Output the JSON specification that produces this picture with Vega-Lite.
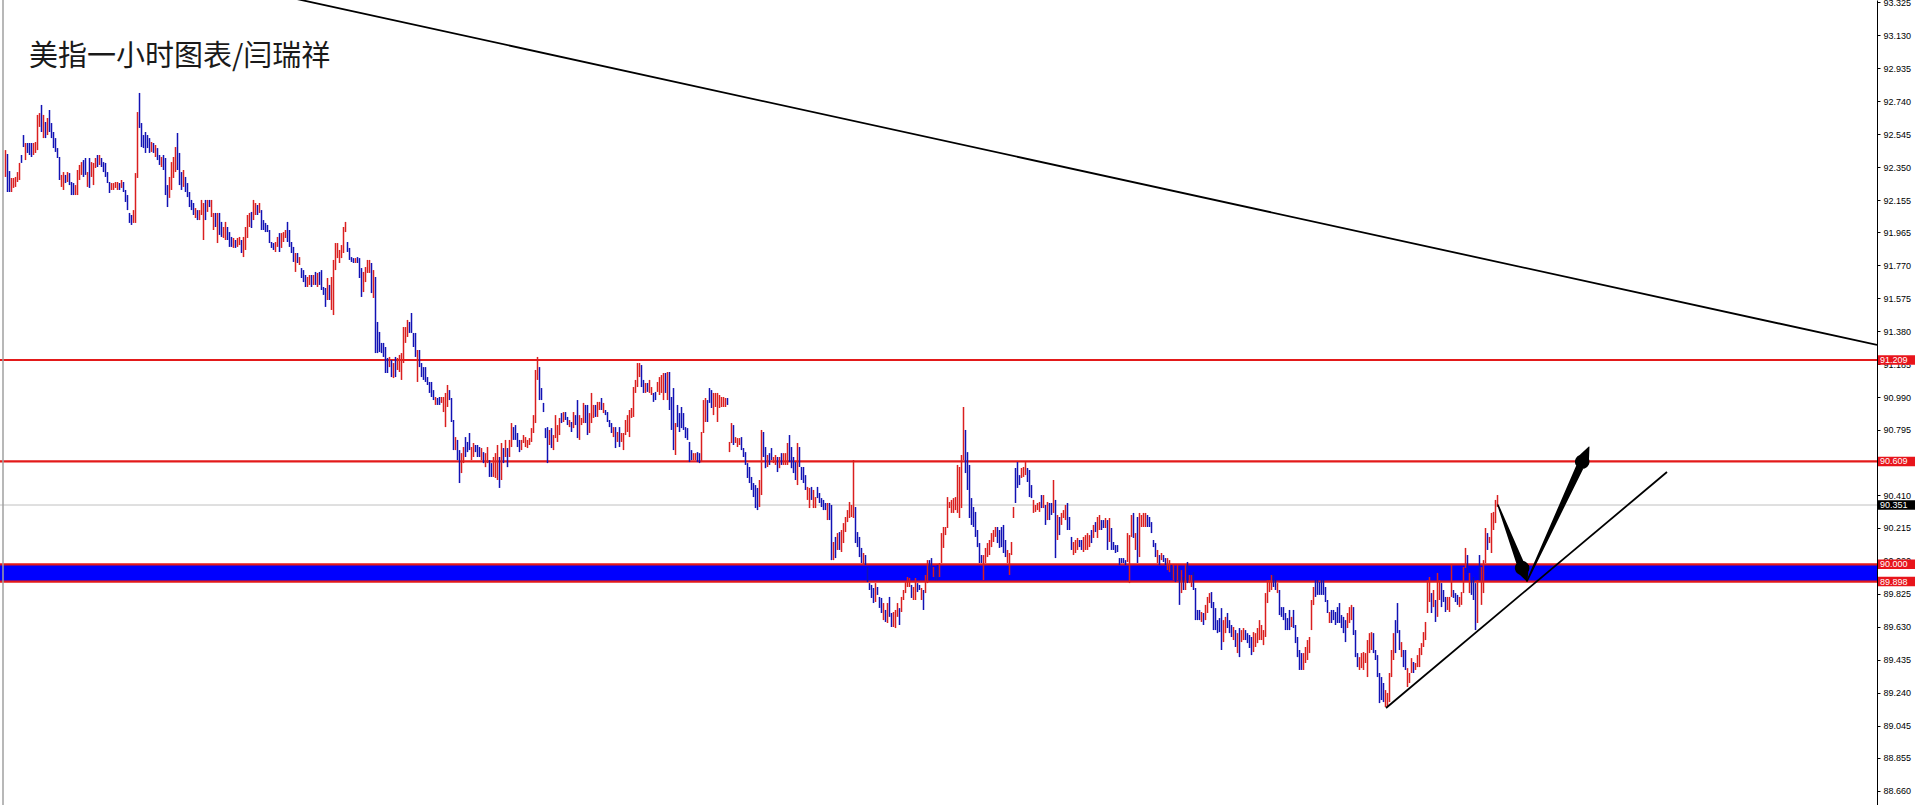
{
"$schema":"https://vega.github.io/schema/vega-lite/v6.json",
"width":1877,"height":805,
"autosize":{"type":"none"},
"padding":{"left":0,"top":0,"right":39,"bottom":0},
"background":"white",
"config":{"view":{"stroke":null},"axis":{"grid":false,"labelOverlap":false},
  "axisY":{"orient":"right","title":null,"format":".3f","grid":false,"labelFont":"Liberation Sans","labelFontSize":9,"labelColor":"#000000","tickColor":"#000000","tickSize":3,"domainColor":"#000000","domainWidth":1,"labelPadding":3,"labelOverlap":false,"labelFlush":false,"labelBound":false}},
"datasets":{
"bars":[
{"i":0,"h":92.451,"l":92.292,"d":"u"},{"i":1,"h":92.428,"l":92.203,"d":"d"},{"i":2,"h":92.327,"l":92.203,"d":"d"},{"i":3,"h":92.286,"l":92.203,"d":"u"},{"i":4,"h":92.286,"l":92.227,"d":"u"},{"i":5,"h":92.292,"l":92.233,"d":"u"},{"i":6,"h":92.321,"l":92.262,"d":"u"},{"i":7,"h":92.375,"l":92.274,"d":"u"},{"i":8,"h":92.422,"l":92.375,"d":"d"},{"i":9,"h":92.540,"l":92.469,"d":"d"},
{"i":10,"h":92.493,"l":92.392,"d":"u"},{"i":11,"h":92.493,"l":92.434,"d":"d"},{"i":12,"h":92.493,"l":92.422,"d":"d"},{"i":13,"h":92.493,"l":92.410,"d":"d"},{"i":14,"h":92.493,"l":92.422,"d":"u"},{"i":15,"h":92.499,"l":92.434,"d":"u"},{"i":16,"h":92.659,"l":92.451,"d":"u"},{"i":17,"h":92.670,"l":92.588,"d":"u"},{"i":18,"h":92.718,"l":92.558,"d":"d"},{"i":19,"h":92.659,"l":92.522,"d":"u"},
{"i":20,"h":92.617,"l":92.522,"d":"d"},{"i":21,"h":92.641,"l":92.540,"d":"u"},{"i":22,"h":92.688,"l":92.558,"d":"d"},{"i":23,"h":92.611,"l":92.522,"d":"d"},{"i":24,"h":92.558,"l":92.463,"d":"d"},{"i":25,"h":92.522,"l":92.440,"d":"d"},{"i":26,"h":92.463,"l":92.404,"d":"d"},{"i":27,"h":92.410,"l":92.274,"d":"d"},{"i":28,"h":92.304,"l":92.233,"d":"u"},{"i":29,"h":92.321,"l":92.215,"d":"u"},
{"i":30,"h":92.304,"l":92.256,"d":"d"},{"i":31,"h":92.321,"l":92.262,"d":"u"},{"i":32,"h":92.315,"l":92.244,"d":"d"},{"i":33,"h":92.262,"l":92.185,"d":"d"},{"i":34,"h":92.256,"l":92.185,"d":"d"},{"i":35,"h":92.244,"l":92.185,"d":"u"},{"i":36,"h":92.333,"l":92.185,"d":"u"},{"i":37,"h":92.363,"l":92.274,"d":"u"},{"i":38,"h":92.380,"l":92.304,"d":"u"},{"i":39,"h":92.392,"l":92.292,"d":"d"},
{"i":40,"h":92.404,"l":92.304,"d":"d"},{"i":41,"h":92.321,"l":92.233,"d":"u"},{"i":42,"h":92.404,"l":92.227,"d":"d"},{"i":43,"h":92.380,"l":92.292,"d":"u"},{"i":44,"h":92.375,"l":92.244,"d":"u"},{"i":45,"h":92.404,"l":92.345,"d":"u"},{"i":46,"h":92.422,"l":92.351,"d":"d"},{"i":47,"h":92.422,"l":92.363,"d":"u"},{"i":48,"h":92.404,"l":92.351,"d":"d"},{"i":49,"h":92.380,"l":92.321,"d":"d"},
{"i":50,"h":92.375,"l":92.292,"d":"d"},{"i":51,"h":92.321,"l":92.256,"d":"d"},{"i":52,"h":92.262,"l":92.197,"d":"d"},{"i":53,"h":92.256,"l":92.215,"d":"u"},{"i":54,"h":92.256,"l":92.215,"d":"u"},{"i":55,"h":92.262,"l":92.227,"d":"u"},{"i":56,"h":92.262,"l":92.215,"d":"u"},{"i":57,"h":92.256,"l":92.215,"d":"d"},{"i":58,"h":92.274,"l":92.227,"d":"u"},{"i":59,"h":92.262,"l":92.203,"d":"d"},
{"i":60,"h":92.215,"l":92.144,"d":"d"},{"i":61,"h":92.185,"l":92.096,"d":"d"},{"i":62,"h":92.079,"l":92.020,"d":"d"},{"i":63,"h":92.067,"l":92.008,"d":"d"},{"i":64,"h":92.096,"l":92.020,"d":"u"},{"i":65,"h":92.315,"l":92.020,"d":"u"},{"i":66,"h":92.676,"l":92.286,"d":"u"},{"i":67,"h":92.789,"l":92.582,"d":"d"},{"i":68,"h":92.611,"l":92.469,"d":"d"},{"i":69,"h":92.540,"l":92.463,"d":"d"},
{"i":70,"h":92.558,"l":92.434,"d":"d"},{"i":71,"h":92.540,"l":92.463,"d":"d"},{"i":72,"h":92.522,"l":92.434,"d":"d"},{"i":73,"h":92.499,"l":92.440,"d":"u"},{"i":74,"h":92.493,"l":92.434,"d":"d"},{"i":75,"h":92.481,"l":92.410,"d":"u"},{"i":76,"h":92.463,"l":92.392,"d":"d"},{"i":77,"h":92.422,"l":92.363,"d":"d"},{"i":78,"h":92.410,"l":92.351,"d":"u"},{"i":79,"h":92.422,"l":92.333,"d":"d"},
{"i":80,"h":92.404,"l":92.185,"d":"d"},{"i":81,"h":92.244,"l":92.114,"d":"d"},{"i":82,"h":92.292,"l":92.168,"d":"u"},{"i":83,"h":92.380,"l":92.215,"d":"u"},{"i":84,"h":92.410,"l":92.286,"d":"u"},{"i":85,"h":92.469,"l":92.321,"d":"u"},{"i":86,"h":92.552,"l":92.333,"d":"d"},{"i":87,"h":92.434,"l":92.244,"d":"d"},{"i":88,"h":92.321,"l":92.215,"d":"d"},{"i":89,"h":92.333,"l":92.233,"d":"u"},
{"i":90,"h":92.292,"l":92.203,"d":"d"},{"i":91,"h":92.256,"l":92.173,"d":"d"},{"i":92,"h":92.203,"l":92.114,"d":"d"},{"i":93,"h":92.156,"l":92.096,"d":"d"},{"i":94,"h":92.138,"l":92.067,"d":"d"},{"i":95,"h":92.108,"l":92.049,"d":"u"},{"i":96,"h":92.096,"l":92.037,"d":"d"},{"i":97,"h":92.096,"l":92.037,"d":"u"},{"i":98,"h":92.156,"l":92.067,"d":"u"},{"i":99,"h":92.138,"l":91.919,"d":"u"},
{"i":100,"h":92.156,"l":92.037,"d":"d"},{"i":101,"h":92.156,"l":92.085,"d":"u"},{"i":102,"h":92.156,"l":92.114,"d":"d"},{"i":103,"h":92.156,"l":92.055,"d":"u"},{"i":104,"h":92.079,"l":91.978,"d":"u"},{"i":105,"h":92.079,"l":91.996,"d":"d"},{"i":106,"h":92.079,"l":91.901,"d":"u"},{"i":107,"h":92.079,"l":91.949,"d":"d"},{"i":108,"h":92.026,"l":91.937,"d":"d"},{"i":109,"h":91.996,"l":91.931,"d":"u"},
{"i":110,"h":92.026,"l":91.919,"d":"u"},{"i":111,"h":91.996,"l":91.919,"d":"d"},{"i":112,"h":91.966,"l":91.878,"d":"d"},{"i":113,"h":91.937,"l":91.878,"d":"d"},{"i":114,"h":91.931,"l":91.872,"d":"u"},{"i":115,"h":91.919,"l":91.872,"d":"d"},{"i":116,"h":91.931,"l":91.878,"d":"u"},{"i":117,"h":91.937,"l":91.889,"d":"u"},{"i":118,"h":91.919,"l":91.842,"d":"d"},{"i":119,"h":91.937,"l":91.818,"d":"u"},
{"i":120,"h":91.996,"l":91.860,"d":"u"},{"i":121,"h":92.067,"l":91.931,"d":"u"},{"i":122,"h":92.079,"l":91.996,"d":"u"},{"i":123,"h":92.085,"l":91.990,"d":"d"},{"i":124,"h":92.156,"l":92.037,"d":"u"},{"i":125,"h":92.138,"l":92.067,"d":"u"},{"i":126,"h":92.126,"l":92.067,"d":"d"},{"i":127,"h":92.138,"l":92.079,"d":"u"},{"i":128,"h":92.096,"l":91.978,"d":"d"},{"i":129,"h":92.037,"l":91.978,"d":"d"},
{"i":130,"h":92.020,"l":91.966,"d":"d"},{"i":131,"h":92.008,"l":91.966,"d":"d"},{"i":132,"h":91.978,"l":91.901,"d":"d"},{"i":133,"h":91.907,"l":91.872,"d":"d"},{"i":134,"h":91.901,"l":91.860,"d":"d"},{"i":135,"h":91.907,"l":91.848,"d":"u"},{"i":136,"h":91.937,"l":91.878,"d":"u"},{"i":137,"h":91.960,"l":91.848,"d":"d"},{"i":138,"h":91.960,"l":91.872,"d":"u"},{"i":139,"h":91.966,"l":91.907,"d":"u"},
{"i":140,"h":91.978,"l":91.931,"d":"u"},{"i":141,"h":92.026,"l":91.907,"d":"d"},{"i":142,"h":91.978,"l":91.878,"d":"d"},{"i":143,"h":91.907,"l":91.842,"d":"d"},{"i":144,"h":91.878,"l":91.789,"d":"d"},{"i":145,"h":91.842,"l":91.730,"d":"u"},{"i":146,"h":91.842,"l":91.783,"d":"d"},{"i":147,"h":91.818,"l":91.771,"d":"u"},{"i":148,"h":91.753,"l":91.694,"d":"d"},{"i":149,"h":91.741,"l":91.670,"d":"d"},
{"i":150,"h":91.712,"l":91.641,"d":"d"},{"i":151,"h":91.700,"l":91.641,"d":"u"},{"i":152,"h":91.712,"l":91.653,"d":"u"},{"i":153,"h":91.712,"l":91.641,"d":"d"},{"i":154,"h":91.712,"l":91.653,"d":"u"},{"i":155,"h":91.730,"l":91.653,"d":"d"},{"i":156,"h":91.724,"l":91.641,"d":"u"},{"i":157,"h":91.730,"l":91.653,"d":"d"},{"i":158,"h":91.741,"l":91.623,"d":"d"},{"i":159,"h":91.641,"l":91.594,"d":"d"},
{"i":160,"h":91.635,"l":91.523,"d":"d"},{"i":161,"h":91.694,"l":91.564,"d":"u"},{"i":162,"h":91.653,"l":91.564,"d":"d"},{"i":163,"h":91.700,"l":91.505,"d":"u"},{"i":164,"h":91.801,"l":91.475,"d":"u"},{"i":165,"h":91.901,"l":91.741,"d":"u"},{"i":166,"h":91.901,"l":91.812,"d":"u"},{"i":167,"h":91.860,"l":91.783,"d":"u"},{"i":168,"h":91.889,"l":91.812,"d":"u"},{"i":169,"h":91.996,"l":91.842,"d":"u"},
{"i":170,"h":92.026,"l":91.966,"d":"u"},{"i":171,"h":91.907,"l":91.848,"d":"d"},{"i":172,"h":91.872,"l":91.801,"d":"d"},{"i":173,"h":91.818,"l":91.789,"d":"d"},{"i":174,"h":91.812,"l":91.783,"d":"d"},{"i":175,"h":91.812,"l":91.783,"d":"u"},{"i":176,"h":91.818,"l":91.783,"d":"d"},{"i":177,"h":91.812,"l":91.694,"d":"d"},{"i":178,"h":91.753,"l":91.582,"d":"d"},{"i":179,"h":91.730,"l":91.611,"d":"u"},
{"i":180,"h":91.759,"l":91.670,"d":"u"},{"i":181,"h":91.801,"l":91.724,"d":"u"},{"i":182,"h":91.801,"l":91.724,"d":"u"},{"i":183,"h":91.783,"l":91.605,"d":"d"},{"i":184,"h":91.741,"l":91.576,"d":"u"},{"i":185,"h":91.700,"l":91.250,"d":"d"},{"i":186,"h":91.434,"l":91.250,"d":"d"},{"i":187,"h":91.375,"l":91.256,"d":"d"},{"i":188,"h":91.310,"l":91.250,"d":"d"},{"i":189,"h":91.310,"l":91.227,"d":"d"},
{"i":190,"h":91.286,"l":91.132,"d":"d"},{"i":191,"h":91.221,"l":91.132,"d":"d"},{"i":192,"h":91.227,"l":91.167,"d":"u"},{"i":193,"h":91.209,"l":91.108,"d":"d"},{"i":194,"h":91.191,"l":91.102,"d":"u"},{"i":195,"h":91.227,"l":91.108,"d":"d"},{"i":196,"h":91.221,"l":91.150,"d":"u"},{"i":197,"h":91.239,"l":91.138,"d":"u"},{"i":198,"h":91.250,"l":91.091,"d":"u"},{"i":199,"h":91.404,"l":91.191,"d":"u"},
{"i":200,"h":91.404,"l":91.310,"d":"u"},{"i":201,"h":91.446,"l":91.345,"d":"u"},{"i":202,"h":91.434,"l":91.369,"d":"d"},{"i":203,"h":91.487,"l":91.369,"d":"d"},{"i":204,"h":91.369,"l":91.286,"d":"d"},{"i":205,"h":91.369,"l":91.227,"d":"d"},{"i":206,"h":91.268,"l":91.079,"d":"u"},{"i":207,"h":91.268,"l":91.167,"d":"d"},{"i":208,"h":91.191,"l":91.108,"d":"d"},{"i":209,"h":91.167,"l":91.091,"d":"d"},
{"i":210,"h":91.167,"l":91.079,"d":"d"},{"i":211,"h":91.108,"l":91.061,"d":"d"},{"i":212,"h":91.079,"l":91.014,"d":"d"},{"i":213,"h":91.079,"l":90.990,"d":"d"},{"i":214,"h":91.031,"l":90.972,"d":"d"},{"i":215,"h":90.990,"l":90.943,"d":"u"},{"i":216,"h":90.984,"l":90.943,"d":"d"},{"i":217,"h":90.990,"l":90.943,"d":"d"},{"i":218,"h":90.990,"l":90.955,"d":"u"},{"i":219,"h":90.990,"l":90.901,"d":"u"},
{"i":220,"h":91.014,"l":90.812,"d":"u"},{"i":221,"h":91.061,"l":90.931,"d":"u"},{"i":222,"h":91.031,"l":90.972,"d":"d"},{"i":223,"h":90.984,"l":90.842,"d":"d"},{"i":224,"h":90.854,"l":90.676,"d":"d"},{"i":225,"h":90.753,"l":90.676,"d":"u"},{"i":226,"h":90.736,"l":90.617,"d":"d"},{"i":227,"h":90.676,"l":90.481,"d":"d"},{"i":228,"h":90.658,"l":90.540,"d":"u"},{"i":229,"h":90.694,"l":90.599,"d":"u"},
{"i":230,"h":90.753,"l":90.635,"d":"d"},{"i":231,"h":90.724,"l":90.664,"d":"d"},{"i":232,"h":90.777,"l":90.676,"d":"d"},{"i":233,"h":90.694,"l":90.617,"d":"u"},{"i":234,"h":90.718,"l":90.635,"d":"u"},{"i":235,"h":90.706,"l":90.664,"d":"d"},{"i":236,"h":90.706,"l":90.635,"d":"d"},{"i":237,"h":90.694,"l":90.635,"d":"d"},{"i":238,"h":90.688,"l":90.617,"d":"u"},{"i":239,"h":90.664,"l":90.599,"d":"d"},
{"i":240,"h":90.658,"l":90.575,"d":"u"},{"i":241,"h":90.694,"l":90.599,"d":"u"},{"i":242,"h":90.617,"l":90.517,"d":"d"},{"i":243,"h":90.599,"l":90.517,"d":"d"},{"i":244,"h":90.635,"l":90.517,"d":"u"},{"i":245,"h":90.658,"l":90.511,"d":"u"},{"i":246,"h":90.706,"l":90.499,"d":"u"},{"i":247,"h":90.635,"l":90.452,"d":"d"},{"i":248,"h":90.718,"l":90.499,"d":"u"},{"i":249,"h":90.688,"l":90.599,"d":"d"},
{"i":250,"h":90.736,"l":90.635,"d":"u"},{"i":251,"h":90.688,"l":90.575,"d":"d"},{"i":252,"h":90.736,"l":90.635,"d":"u"},{"i":253,"h":90.836,"l":90.694,"d":"u"},{"i":254,"h":90.812,"l":90.736,"d":"d"},{"i":255,"h":90.824,"l":90.736,"d":"d"},{"i":256,"h":90.777,"l":90.694,"d":"d"},{"i":257,"h":90.736,"l":90.664,"d":"d"},{"i":258,"h":90.736,"l":90.676,"d":"u"},{"i":259,"h":90.765,"l":90.718,"d":"u"},
{"i":260,"h":90.753,"l":90.694,"d":"u"},{"i":261,"h":90.736,"l":90.688,"d":"u"},{"i":262,"h":90.747,"l":90.706,"d":"u"},{"i":263,"h":90.806,"l":90.724,"d":"u"},{"i":264,"h":90.883,"l":90.777,"d":"u"},{"i":265,"h":91.150,"l":90.836,"d":"u"},{"i":266,"h":91.227,"l":91.091,"d":"u"},{"i":267,"h":91.167,"l":90.972,"d":"d"},{"i":268,"h":91.043,"l":90.972,"d":"d"},{"i":269,"h":90.955,"l":90.901,"d":"d"},
{"i":270,"h":90.806,"l":90.747,"d":"d"},{"i":271,"h":90.812,"l":90.599,"d":"d"},{"i":272,"h":90.795,"l":90.706,"d":"u"},{"i":273,"h":90.806,"l":90.688,"d":"d"},{"i":274,"h":90.765,"l":90.676,"d":"u"},{"i":275,"h":90.883,"l":90.747,"d":"u"},{"i":276,"h":90.824,"l":90.724,"d":"u"},{"i":277,"h":90.866,"l":90.765,"d":"u"},{"i":278,"h":90.895,"l":90.836,"d":"d"},{"i":279,"h":90.901,"l":90.842,"d":"u"},
{"i":280,"h":90.901,"l":90.854,"d":"d"},{"i":281,"h":90.872,"l":90.824,"d":"d"},{"i":282,"h":90.854,"l":90.812,"d":"u"},{"i":283,"h":90.842,"l":90.783,"d":"d"},{"i":284,"h":90.901,"l":90.806,"d":"u"},{"i":285,"h":90.883,"l":90.824,"d":"d"},{"i":286,"h":90.972,"l":90.747,"d":"d"},{"i":287,"h":90.883,"l":90.736,"d":"u"},{"i":288,"h":90.866,"l":90.824,"d":"u"},{"i":289,"h":90.955,"l":90.836,"d":"u"},
{"i":290,"h":90.943,"l":90.836,"d":"d"},{"i":291,"h":90.943,"l":90.765,"d":"d"},{"i":292,"h":90.895,"l":90.777,"d":"u"},{"i":293,"h":91.014,"l":90.836,"d":"u"},{"i":294,"h":90.943,"l":90.866,"d":"u"},{"i":295,"h":90.943,"l":90.872,"d":"d"},{"i":296,"h":90.961,"l":90.872,"d":"u"},{"i":297,"h":90.961,"l":90.913,"d":"u"},{"i":298,"h":90.984,"l":90.913,"d":"d"},{"i":299,"h":90.955,"l":90.895,"d":"u"},
{"i":300,"h":90.913,"l":90.883,"d":"d"},{"i":301,"h":90.901,"l":90.842,"d":"d"},{"i":302,"h":90.854,"l":90.812,"d":"d"},{"i":303,"h":90.836,"l":90.777,"d":"d"},{"i":304,"h":90.812,"l":90.753,"d":"u"},{"i":305,"h":90.812,"l":90.688,"d":"d"},{"i":306,"h":90.783,"l":90.724,"d":"u"},{"i":307,"h":90.812,"l":90.694,"d":"d"},{"i":308,"h":90.777,"l":90.724,"d":"u"},{"i":309,"h":90.777,"l":90.676,"d":"u"},
{"i":310,"h":90.854,"l":90.765,"d":"u"},{"i":311,"h":90.883,"l":90.783,"d":"u"},{"i":312,"h":90.913,"l":90.753,"d":"u"},{"i":313,"h":90.925,"l":90.866,"d":"u"},{"i":314,"h":91.049,"l":90.872,"d":"u"},{"i":315,"h":91.091,"l":91.014,"d":"u"},{"i":316,"h":91.191,"l":91.049,"d":"u"},{"i":317,"h":91.191,"l":91.108,"d":"u"},{"i":318,"h":91.179,"l":91.049,"d":"d"},{"i":319,"h":91.091,"l":91.014,"d":"d"},
{"i":320,"h":91.073,"l":91.014,"d":"u"},{"i":321,"h":91.073,"l":91.020,"d":"d"},{"i":322,"h":91.091,"l":91.014,"d":"u"},{"i":323,"h":91.049,"l":91.002,"d":"u"},{"i":324,"h":91.014,"l":90.961,"d":"d"},{"i":325,"h":91.020,"l":90.972,"d":"d"},{"i":326,"h":91.079,"l":91.020,"d":"u"},{"i":327,"h":91.108,"l":91.002,"d":"u"},{"i":328,"h":91.120,"l":91.014,"d":"u"},{"i":329,"h":91.132,"l":90.972,"d":"u"},
{"i":330,"h":91.132,"l":91.014,"d":"d"},{"i":331,"h":91.138,"l":90.972,"d":"u"},{"i":332,"h":91.138,"l":90.913,"d":"d"},{"i":333,"h":90.990,"l":90.795,"d":"d"},{"i":334,"h":91.043,"l":90.676,"d":"d"},{"i":335,"h":90.836,"l":90.647,"d":"u"},{"i":336,"h":90.943,"l":90.812,"d":"d"},{"i":337,"h":90.895,"l":90.783,"d":"d"},{"i":338,"h":90.931,"l":90.806,"d":"d"},{"i":339,"h":90.895,"l":90.795,"d":"d"},
{"i":340,"h":90.812,"l":90.747,"d":"d"},{"i":341,"h":90.806,"l":90.736,"d":"d"},{"i":342,"h":90.724,"l":90.605,"d":"d"},{"i":343,"h":90.676,"l":90.617,"d":"d"},{"i":344,"h":90.658,"l":90.617,"d":"u"},{"i":345,"h":90.658,"l":90.617,"d":"u"},{"i":346,"h":90.664,"l":90.605,"d":"d"},{"i":347,"h":90.658,"l":90.599,"d":"d"},{"i":348,"h":90.783,"l":90.605,"d":"u"},{"i":349,"h":90.972,"l":90.777,"d":"u"},
{"i":350,"h":90.984,"l":90.842,"d":"u"},{"i":351,"h":90.972,"l":90.842,"d":"d"},{"i":352,"h":91.043,"l":90.955,"d":"d"},{"i":353,"h":91.031,"l":90.925,"d":"d"},{"i":354,"h":91.014,"l":90.883,"d":"u"},{"i":355,"h":91.014,"l":90.931,"d":"u"},{"i":356,"h":91.014,"l":90.842,"d":"u"},{"i":357,"h":91.002,"l":90.925,"d":"u"},{"i":358,"h":90.990,"l":90.931,"d":"u"},{"i":359,"h":90.990,"l":90.931,"d":"u"},
{"i":360,"h":90.984,"l":90.931,"d":"u"},{"i":361,"h":90.984,"l":90.943,"d":"d"},{"i":362,"h":90.724,"l":90.664,"d":"u"},{"i":363,"h":90.836,"l":90.718,"d":"u"},{"i":364,"h":90.824,"l":90.706,"d":"d"},{"i":365,"h":90.753,"l":90.718,"d":"u"},{"i":366,"h":90.747,"l":90.694,"d":"u"},{"i":367,"h":90.747,"l":90.706,"d":"u"},{"i":368,"h":90.753,"l":90.676,"d":"d"},{"i":369,"h":90.688,"l":90.635,"d":"d"},
{"i":370,"h":90.664,"l":90.588,"d":"d"},{"i":371,"h":90.599,"l":90.511,"d":"d"},{"i":372,"h":90.576,"l":90.481,"d":"d"},{"i":373,"h":90.517,"l":90.440,"d":"d"},{"i":374,"h":90.481,"l":90.398,"d":"d"},{"i":375,"h":90.469,"l":90.333,"d":"d"},{"i":376,"h":90.452,"l":90.321,"d":"d"},{"i":377,"h":90.499,"l":90.339,"d":"u"},{"i":378,"h":90.795,"l":90.410,"d":"u"},{"i":379,"h":90.783,"l":90.635,"d":"d"},
{"i":380,"h":90.694,"l":90.569,"d":"d"},{"i":381,"h":90.647,"l":90.576,"d":"u"},{"i":382,"h":90.658,"l":90.588,"d":"d"},{"i":383,"h":90.688,"l":90.617,"d":"d"},{"i":384,"h":90.635,"l":90.599,"d":"u"},{"i":385,"h":90.647,"l":90.588,"d":"u"},{"i":386,"h":90.635,"l":90.546,"d":"d"},{"i":387,"h":90.635,"l":90.569,"d":"u"},{"i":388,"h":90.658,"l":90.588,"d":"d"},{"i":389,"h":90.658,"l":90.588,"d":"u"},
{"i":390,"h":90.658,"l":90.588,"d":"u"},{"i":391,"h":90.718,"l":90.588,"d":"u"},{"i":392,"h":90.765,"l":90.605,"d":"d"},{"i":393,"h":90.694,"l":90.569,"d":"d"},{"i":394,"h":90.635,"l":90.540,"d":"d"},{"i":395,"h":90.605,"l":90.499,"d":"d"},{"i":396,"h":90.718,"l":90.469,"d":"u"},{"i":397,"h":90.694,"l":90.576,"d":"d"},{"i":398,"h":90.576,"l":90.499,"d":"d"},{"i":399,"h":90.576,"l":90.481,"d":"d"},
{"i":400,"h":90.528,"l":90.440,"d":"d"},{"i":401,"h":90.458,"l":90.381,"d":"u"},{"i":402,"h":90.452,"l":90.333,"d":"u"},{"i":403,"h":90.458,"l":90.381,"d":"d"},{"i":404,"h":90.440,"l":90.333,"d":"u"},{"i":405,"h":90.398,"l":90.333,"d":"u"},{"i":406,"h":90.458,"l":90.392,"d":"d"},{"i":407,"h":90.422,"l":90.363,"d":"d"},{"i":408,"h":90.392,"l":90.339,"d":"d"},{"i":409,"h":90.381,"l":90.321,"d":"d"},
{"i":410,"h":90.363,"l":90.321,"d":"d"},{"i":411,"h":90.363,"l":90.262,"d":"u"},{"i":412,"h":90.363,"l":90.262,"d":"d"},{"i":413,"h":90.351,"l":90.025,"d":"d"},{"i":414,"h":90.132,"l":90.025,"d":"u"},{"i":415,"h":90.162,"l":90.037,"d":"d"},{"i":416,"h":90.185,"l":90.085,"d":"u"},{"i":417,"h":90.191,"l":90.085,"d":"d"},{"i":418,"h":90.203,"l":90.073,"d":"u"},{"i":419,"h":90.244,"l":90.126,"d":"u"},
{"i":420,"h":90.280,"l":90.191,"d":"u"},{"i":421,"h":90.321,"l":90.250,"d":"u"},{"i":422,"h":90.369,"l":90.274,"d":"u"},{"i":423,"h":90.351,"l":90.280,"d":"u"},{"i":424,"h":90.617,"l":90.274,"d":"u"},{"i":425,"h":90.339,"l":90.126,"d":"d"},{"i":426,"h":90.191,"l":90.102,"d":"d"},{"i":427,"h":90.162,"l":90.043,"d":"d"},{"i":428,"h":90.097,"l":90.008,"d":"d"},{"i":429,"h":90.067,"l":89.996,"d":"u"},
{"i":430,"h":90.055,"l":89.996,"d":"d"},{"i":431,"h":89.984,"l":89.895,"d":"d"},{"i":432,"h":89.889,"l":89.848,"d":"d"},{"i":433,"h":89.878,"l":89.801,"d":"d"},{"i":434,"h":89.860,"l":89.771,"d":"d"},{"i":435,"h":89.889,"l":89.777,"d":"u"},{"i":436,"h":89.866,"l":89.819,"d":"d"},{"i":437,"h":89.807,"l":89.742,"d":"d"},{"i":438,"h":89.801,"l":89.712,"d":"d"},{"i":439,"h":89.771,"l":89.670,"d":"u"},
{"i":440,"h":89.730,"l":89.659,"d":"d"},{"i":441,"h":89.771,"l":89.653,"d":"u"},{"i":442,"h":89.807,"l":89.689,"d":"d"},{"i":443,"h":89.712,"l":89.629,"d":"d"},{"i":444,"h":89.718,"l":89.629,"d":"u"},{"i":445,"h":89.730,"l":89.623,"d":"u"},{"i":446,"h":89.771,"l":89.689,"d":"u"},{"i":447,"h":89.741,"l":89.641,"d":"d"},{"i":448,"h":89.807,"l":89.718,"d":"u"},{"i":449,"h":89.848,"l":89.789,"d":"u"},
{"i":450,"h":89.895,"l":89.830,"d":"u"},{"i":451,"h":89.925,"l":89.866,"d":"u"},{"i":452,"h":89.919,"l":89.866,"d":"u"},{"i":453,"h":89.878,"l":89.801,"d":"d"},{"i":454,"h":89.866,"l":89.789,"d":"u"},{"i":455,"h":89.919,"l":89.789,"d":"u"},{"i":456,"h":89.889,"l":89.836,"d":"d"},{"i":457,"h":89.878,"l":89.848,"d":"d"},{"i":458,"h":89.860,"l":89.789,"d":"u"},{"i":459,"h":89.848,"l":89.730,"d":"d"},
{"i":460,"h":89.937,"l":89.830,"d":"u"},{"i":461,"h":90.025,"l":89.889,"d":"u"},{"i":462,"h":90.025,"l":89.907,"d":"d"},{"i":463,"h":90.037,"l":89.966,"d":"d"},{"i":464,"h":89.984,"l":89.925,"d":"u"},{"i":465,"h":89.966,"l":89.907,"d":"d"},{"i":466,"h":89.996,"l":89.907,"d":"d"},{"i":467,"h":90.008,"l":89.925,"d":"u"},{"i":468,"h":90.185,"l":90.008,"d":"u"},{"i":469,"h":90.221,"l":90.097,"d":"u"},
{"i":470,"h":90.221,"l":90.173,"d":"u"},{"i":471,"h":90.398,"l":90.215,"d":"u"},{"i":472,"h":90.369,"l":90.333,"d":"u"},{"i":473,"h":90.381,"l":90.304,"d":"u"},{"i":474,"h":90.392,"l":90.304,"d":"u"},{"i":475,"h":90.398,"l":90.321,"d":"u"},{"i":476,"h":90.588,"l":90.304,"d":"u"},{"i":477,"h":90.576,"l":90.274,"d":"u"},{"i":478,"h":90.647,"l":90.333,"d":"u"},{"i":479,"h":90.931,"l":90.617,"d":"u"},
{"i":480,"h":90.795,"l":90.540,"d":"d"},{"i":481,"h":90.664,"l":90.440,"d":"d"},{"i":482,"h":90.588,"l":90.274,"d":"d"},{"i":483,"h":90.392,"l":90.233,"d":"d"},{"i":484,"h":90.339,"l":90.221,"d":"d"},{"i":485,"h":90.310,"l":90.162,"d":"d"},{"i":486,"h":90.203,"l":90.102,"d":"d"},{"i":487,"h":90.126,"l":90.008,"d":"d"},{"i":488,"h":90.055,"l":90.008,"d":"d"},{"i":489,"h":90.055,"l":89.907,"d":"u"},
{"i":490,"h":90.097,"l":90.008,"d":"u"},{"i":491,"h":90.126,"l":90.043,"d":"u"},{"i":492,"h":90.144,"l":90.055,"d":"u"},{"i":493,"h":90.185,"l":90.102,"d":"u"},{"i":494,"h":90.203,"l":90.132,"d":"u"},{"i":495,"h":90.221,"l":90.162,"d":"u"},{"i":496,"h":90.221,"l":90.126,"d":"d"},{"i":497,"h":90.203,"l":90.097,"d":"d"},{"i":498,"h":90.221,"l":90.102,"d":"d"},{"i":499,"h":90.233,"l":90.067,"d":"d"},
{"i":500,"h":90.144,"l":90.043,"d":"d"},{"i":501,"h":90.085,"l":90.008,"d":"u"},{"i":502,"h":90.067,"l":89.937,"d":"u"},{"i":503,"h":90.132,"l":90.055,"d":"u"},{"i":504,"h":90.339,"l":90.274,"d":"u"},{"i":505,"h":90.570,"l":90.363,"d":"d"},{"i":506,"h":90.605,"l":90.452,"d":"d"},{"i":507,"h":90.528,"l":90.469,"d":"d"},{"i":508,"h":90.570,"l":90.511,"d":"u"},{"i":509,"h":90.576,"l":90.517,"d":"u"},
{"i":510,"h":90.605,"l":90.528,"d":"u"},{"i":511,"h":90.570,"l":90.487,"d":"d"},{"i":512,"h":90.558,"l":90.398,"d":"d"},{"i":513,"h":90.469,"l":90.392,"d":"d"},{"i":514,"h":90.381,"l":90.304,"d":"u"},{"i":515,"h":90.351,"l":90.310,"d":"u"},{"i":516,"h":90.363,"l":90.321,"d":"u"},{"i":517,"h":90.369,"l":90.310,"d":"u"},{"i":518,"h":90.410,"l":90.333,"d":"d"},{"i":519,"h":90.410,"l":90.333,"d":"u"},
{"i":520,"h":90.351,"l":90.233,"d":"d"},{"i":521,"h":90.369,"l":90.262,"d":"u"},{"i":522,"h":90.363,"l":90.262,"d":"d"},{"i":523,"h":90.363,"l":90.292,"d":"d"},{"i":524,"h":90.499,"l":90.304,"d":"u"},{"i":525,"h":90.381,"l":90.037,"d":"d"},{"i":526,"h":90.292,"l":90.144,"d":"u"},{"i":527,"h":90.280,"l":90.173,"d":"d"},{"i":528,"h":90.304,"l":90.233,"d":"u"},{"i":529,"h":90.321,"l":90.274,"d":"u"},
{"i":530,"h":90.351,"l":90.262,"d":"u"},{"i":531,"h":90.363,"l":90.203,"d":"d"},{"i":532,"h":90.280,"l":90.203,"d":"d"},{"i":533,"h":90.162,"l":90.085,"d":"d"},{"i":534,"h":90.132,"l":90.055,"d":"u"},{"i":535,"h":90.144,"l":90.067,"d":"u"},{"i":536,"h":90.156,"l":90.085,"d":"u"},{"i":537,"h":90.144,"l":90.102,"d":"d"},{"i":538,"h":90.144,"l":90.085,"d":"d"},{"i":539,"h":90.162,"l":90.073,"d":"u"},
{"i":540,"h":90.173,"l":90.085,"d":"u"},{"i":541,"h":90.185,"l":90.085,"d":"u"},{"i":542,"h":90.173,"l":90.102,"d":"u"},{"i":543,"h":90.203,"l":90.126,"d":"d"},{"i":544,"h":90.233,"l":90.156,"d":"u"},{"i":545,"h":90.250,"l":90.191,"d":"d"},{"i":546,"h":90.280,"l":90.156,"d":"u"},{"i":547,"h":90.292,"l":90.203,"d":"u"},{"i":548,"h":90.262,"l":90.203,"d":"d"},{"i":549,"h":90.262,"l":90.215,"d":"d"},
{"i":550,"h":90.274,"l":90.215,"d":"u"},{"i":551,"h":90.262,"l":90.085,"d":"d"},{"i":552,"h":90.274,"l":90.132,"d":"u"},{"i":553,"h":90.215,"l":90.085,"d":"d"},{"i":554,"h":90.132,"l":90.085,"d":"d"},{"i":555,"h":90.114,"l":90.067,"d":"d"},{"i":556,"h":90.114,"l":90.073,"d":"d"},{"i":557,"h":90.037,"l":89.996,"d":"d"},{"i":558,"h":90.037,"l":90.008,"d":"d"},{"i":559,"h":90.037,"l":90.008,"d":"d"},
{"i":560,"h":90.025,"l":89.996,"d":"d"},{"i":561,"h":90.185,"l":90.014,"d":"u"},{"i":562,"h":90.173,"l":89.889,"d":"u"},{"i":563,"h":90.292,"l":90.162,"d":"u"},{"i":564,"h":90.304,"l":90.156,"d":"d"},{"i":565,"h":90.185,"l":90.085,"d":"u"},{"i":566,"h":90.280,"l":90.008,"d":"d"},{"i":567,"h":90.304,"l":90.043,"d":"u"},{"i":568,"h":90.292,"l":90.221,"d":"u"},{"i":569,"h":90.304,"l":90.221,"d":"u"},
{"i":570,"h":90.304,"l":90.221,"d":"u"},{"i":571,"h":90.292,"l":90.221,"d":"d"},{"i":572,"h":90.280,"l":90.221,"d":"d"},{"i":573,"h":90.250,"l":90.185,"d":"d"},{"i":574,"h":90.144,"l":90.102,"d":"d"},{"i":575,"h":90.126,"l":90.043,"d":"d"},{"i":576,"h":90.085,"l":90.008,"d":"u"},{"i":577,"h":90.055,"l":89.996,"d":"d"},{"i":578,"h":90.067,"l":90.025,"d":"u"},{"i":579,"h":90.055,"l":90.014,"d":"d"},
{"i":580,"h":90.037,"l":89.996,"d":"d"},{"i":581,"h":90.037,"l":89.966,"d":"u"},{"i":582,"h":90.025,"l":89.954,"d":"u"},{"i":583,"h":89.996,"l":89.919,"d":"d"},{"i":584,"h":89.996,"l":89.907,"d":"u"},{"i":585,"h":89.978,"l":89.895,"d":"d"},{"i":586,"h":89.996,"l":89.907,"d":"u"},{"i":587,"h":89.984,"l":89.760,"d":"d"},{"i":588,"h":89.966,"l":89.830,"d":"u"},{"i":589,"h":89.925,"l":89.848,"d":"d"},
{"i":590,"h":89.996,"l":89.848,"d":"u"},{"i":591,"h":90.014,"l":89.889,"d":"d"},{"i":592,"h":89.937,"l":89.889,"d":"u"},{"i":593,"h":89.937,"l":89.866,"d":"u"},{"i":594,"h":89.954,"l":89.848,"d":"d"},{"i":595,"h":89.860,"l":89.670,"d":"d"},{"i":596,"h":89.730,"l":89.670,"d":"d"},{"i":597,"h":89.730,"l":89.670,"d":"d"},{"i":598,"h":89.718,"l":89.659,"d":"u"},{"i":599,"h":89.712,"l":89.641,"d":"d"},
{"i":600,"h":89.760,"l":89.670,"d":"u"},{"i":601,"h":89.807,"l":89.712,"d":"u"},{"i":602,"h":89.830,"l":89.771,"d":"u"},{"i":603,"h":89.836,"l":89.741,"d":"d"},{"i":604,"h":89.777,"l":89.611,"d":"d"},{"i":605,"h":89.741,"l":89.611,"d":"d"},{"i":606,"h":89.670,"l":89.593,"d":"d"},{"i":607,"h":89.682,"l":89.599,"d":"d"},{"i":608,"h":89.741,"l":89.493,"d":"d"},{"i":609,"h":89.670,"l":89.540,"d":"u"},
{"i":610,"h":89.689,"l":89.593,"d":"u"},{"i":611,"h":89.712,"l":89.623,"d":"d"},{"i":612,"h":89.670,"l":89.593,"d":"d"},{"i":613,"h":89.641,"l":89.570,"d":"d"},{"i":614,"h":89.629,"l":89.552,"d":"u"},{"i":615,"h":89.611,"l":89.511,"d":"d"},{"i":616,"h":89.593,"l":89.475,"d":"u"},{"i":617,"h":89.623,"l":89.451,"d":"d"},{"i":618,"h":89.611,"l":89.540,"d":"u"},{"i":619,"h":89.623,"l":89.552,"d":"u"},
{"i":620,"h":89.611,"l":89.552,"d":"d"},{"i":621,"h":89.593,"l":89.534,"d":"d"},{"i":622,"h":89.582,"l":89.505,"d":"d"},{"i":623,"h":89.570,"l":89.463,"d":"d"},{"i":624,"h":89.599,"l":89.481,"d":"u"},{"i":625,"h":89.593,"l":89.511,"d":"u"},{"i":626,"h":89.623,"l":89.534,"d":"u"},{"i":627,"h":89.670,"l":89.552,"d":"u"},{"i":628,"h":89.641,"l":89.552,"d":"u"},{"i":629,"h":89.611,"l":89.522,"d":"u"},
{"i":630,"h":89.830,"l":89.570,"d":"u"},{"i":631,"h":89.907,"l":89.771,"d":"u"},{"i":632,"h":89.907,"l":89.836,"d":"u"},{"i":633,"h":89.937,"l":89.848,"d":"u"},{"i":634,"h":89.937,"l":89.866,"d":"d"},{"i":635,"h":89.907,"l":89.848,"d":"d"},{"i":636,"h":89.889,"l":89.830,"d":"u"},{"i":637,"h":89.848,"l":89.700,"d":"d"},{"i":638,"h":89.747,"l":89.689,"d":"d"},{"i":639,"h":89.747,"l":89.670,"d":"d"},
{"i":640,"h":89.712,"l":89.611,"d":"d"},{"i":641,"h":89.682,"l":89.611,"d":"d"},{"i":642,"h":89.730,"l":89.611,"d":"d"},{"i":643,"h":89.689,"l":89.629,"d":"u"},{"i":644,"h":89.730,"l":89.623,"d":"d"},{"i":645,"h":89.641,"l":89.534,"d":"d"},{"i":646,"h":89.570,"l":89.451,"d":"d"},{"i":647,"h":89.493,"l":89.375,"d":"d"},{"i":648,"h":89.475,"l":89.375,"d":"d"},{"i":649,"h":89.475,"l":89.375,"d":"u"},
{"i":650,"h":89.511,"l":89.416,"d":"u"},{"i":651,"h":89.552,"l":89.434,"d":"u"},{"i":652,"h":89.570,"l":89.475,"d":"u"},{"i":653,"h":89.789,"l":89.611,"d":"u"},{"i":654,"h":89.866,"l":89.759,"d":"u"},{"i":655,"h":89.907,"l":89.807,"d":"d"},{"i":656,"h":89.907,"l":89.819,"d":"d"},{"i":657,"h":89.895,"l":89.819,"d":"d"},{"i":658,"h":89.907,"l":89.819,"d":"d"},{"i":659,"h":89.907,"l":89.819,"d":"d"},
{"i":660,"h":89.866,"l":89.777,"d":"d"},{"i":661,"h":89.789,"l":89.712,"d":"d"},{"i":662,"h":89.718,"l":89.653,"d":"u"},{"i":663,"h":89.730,"l":89.653,"d":"d"},{"i":664,"h":89.730,"l":89.670,"d":"d"},{"i":665,"h":89.718,"l":89.641,"d":"d"},{"i":666,"h":89.747,"l":89.653,"d":"d"},{"i":667,"h":89.771,"l":89.653,"d":"d"},{"i":668,"h":89.700,"l":89.623,"d":"d"},{"i":669,"h":89.689,"l":89.593,"d":"d"},
{"i":670,"h":89.670,"l":89.540,"d":"d"},{"i":671,"h":89.712,"l":89.623,"d":"u"},{"i":672,"h":89.747,"l":89.653,"d":"u"},{"i":673,"h":89.760,"l":89.670,"d":"u"},{"i":674,"h":89.747,"l":89.582,"d":"d"},{"i":675,"h":89.611,"l":89.451,"d":"d"},{"i":676,"h":89.475,"l":89.392,"d":"d"},{"i":677,"h":89.451,"l":89.375,"d":"u"},{"i":678,"h":89.475,"l":89.386,"d":"u"},{"i":679,"h":89.481,"l":89.375,"d":"u"},
{"i":680,"h":89.475,"l":89.416,"d":"u"},{"i":681,"h":89.552,"l":89.333,"d":"u"},{"i":682,"h":89.593,"l":89.475,"d":"u"},{"i":683,"h":89.599,"l":89.493,"d":"u"},{"i":684,"h":89.593,"l":89.475,"d":"d"},{"i":685,"h":89.493,"l":89.434,"d":"d"},{"i":686,"h":89.463,"l":89.333,"d":"d"},{"i":687,"h":89.357,"l":89.179,"d":"d"},{"i":688,"h":89.333,"l":89.197,"d":"d"},{"i":689,"h":89.298,"l":89.185,"d":"d"},
{"i":690,"h":89.256,"l":89.156,"d":"u"},{"i":691,"h":89.239,"l":89.156,"d":"u"},{"i":692,"h":89.357,"l":89.185,"d":"u"},{"i":693,"h":89.493,"l":89.333,"d":"u"},{"i":694,"h":89.593,"l":89.434,"d":"u"},{"i":695,"h":89.670,"l":89.475,"d":"d"},{"i":696,"h":89.771,"l":89.593,"d":"d"},{"i":697,"h":89.611,"l":89.493,"d":"d"},{"i":698,"h":89.540,"l":89.451,"d":"u"},{"i":699,"h":89.493,"l":89.392,"d":"d"},
{"i":700,"h":89.493,"l":89.375,"d":"d"},{"i":701,"h":89.386,"l":89.274,"d":"u"},{"i":702,"h":89.357,"l":89.298,"d":"u"},{"i":703,"h":89.445,"l":89.357,"d":"u"},{"i":704,"h":89.422,"l":89.357,"d":"d"},{"i":705,"h":89.416,"l":89.375,"d":"u"},{"i":706,"h":89.463,"l":89.392,"d":"u"},{"i":707,"h":89.505,"l":89.392,"d":"u"},{"i":708,"h":89.534,"l":89.463,"d":"u"},{"i":709,"h":89.599,"l":89.511,"d":"u"},
{"i":710,"h":89.659,"l":89.552,"d":"u"},{"i":711,"h":89.907,"l":89.712,"d":"u"},{"i":712,"h":89.925,"l":89.777,"d":"u"},{"i":713,"h":89.830,"l":89.712,"d":"d"},{"i":714,"h":89.848,"l":89.747,"d":"u"},{"i":715,"h":89.789,"l":89.659,"d":"d"},{"i":716,"h":89.949,"l":89.689,"d":"u"},{"i":717,"h":89.907,"l":89.789,"d":"u"},{"i":718,"h":89.889,"l":89.747,"d":"d"},{"i":719,"h":89.848,"l":89.777,"d":"d"},
{"i":720,"h":89.807,"l":89.718,"d":"d"},{"i":721,"h":89.807,"l":89.730,"d":"u"},{"i":722,"h":89.807,"l":89.718,"d":"u"},{"i":723,"h":89.996,"l":89.807,"d":"u"},{"i":724,"h":89.848,"l":89.801,"d":"d"},{"i":725,"h":89.830,"l":89.777,"d":"d"},{"i":726,"h":89.819,"l":89.760,"d":"d"},{"i":727,"h":89.807,"l":89.747,"d":"u"},{"i":728,"h":89.836,"l":89.760,"d":"u"},{"i":729,"h":89.984,"l":89.830,"d":"u"},
{"i":730,"h":90.097,"l":89.978,"d":"u"},{"i":731,"h":90.055,"l":89.949,"d":"d"},{"i":732,"h":89.949,"l":89.830,"d":"u"},{"i":733,"h":89.907,"l":89.819,"d":"d"},{"i":734,"h":89.925,"l":89.789,"d":"d"},{"i":735,"h":89.889,"l":89.611,"d":"d"},{"i":736,"h":89.907,"l":89.653,"d":"u"},{"i":737,"h":90.055,"l":89.907,"d":"d"},{"i":738,"h":89.984,"l":89.760,"d":"u"},{"i":739,"h":90.025,"l":89.830,"d":"u"},
{"i":740,"h":90.215,"l":90.008,"d":"u"},{"i":741,"h":90.185,"l":90.085,"d":"d"},{"i":742,"h":90.162,"l":90.126,"d":"u"},{"i":743,"h":90.304,"l":90.067,"d":"u"},{"i":744,"h":90.310,"l":90.203,"d":"u"},{"i":745,"h":90.381,"l":90.244,"d":"u"},{"i":746,"h":90.410,"l":90.339,"d":"u"}
]
},
"layer":[
{"data":{"values":[{"top":90.0,"bot":89.898}]},
 "mark":{"type":"rect","color":"#0000FF"},
 "encoding":{
  "y":{"field":"top","type":"quantitative","scale":{"domain":[88.576,93.339],"nice":false,"zero":false},
       "axis":{"orient":"right","title":null,"values":[93.325,93.13,92.935,92.74,92.545,92.35,92.155,91.965,91.77,91.575,91.38,91.185,90.99,90.795,90.6,90.41,90.215,90.02,89.825,89.63,89.435,89.24,89.045,88.855,88.66],"labelOverlap":false}},
  "y2":{"field":"bot"}}},
{"data":{"values":[{"v":90.351}]},
 "mark":{"type":"rule","color":"#C0C0C0","strokeWidth":1},
 "encoding":{
  "y":{"field":"v","type":"quantitative","scale":{"domain":[88.576,93.339],"nice":false,"zero":false},
       "axis":{"orient":"right","title":null,"values":[93.325,93.13,92.935,92.74,92.545,92.35,92.155,91.965,91.77,91.575,91.38,91.185,90.99,90.795,90.6,90.41,90.215,90.02,89.825,89.63,89.435,89.24,89.045,88.855,88.66],"labelOverlap":false}}}},
{"data":{"values":[{"v":91.209},{"v":90.609},{"v":90.0},{"v":89.898}]},
 "mark":{"type":"rule","color":"#E31A1A","strokeWidth":2.2},
 "encoding":{
  "y":{"field":"v","type":"quantitative","scale":{"domain":[88.576,93.339],"nice":false,"zero":false},
       "axis":{"orient":"right","title":null,"values":[93.325,93.13,92.935,92.74,92.545,92.35,92.155,91.965,91.77,91.575,91.38,91.185,90.99,90.795,90.6,90.41,90.215,90.02,89.825,89.63,89.435,89.24,89.045,88.855,88.66],"labelOverlap":false}}}},
{"data":{"name":"bars"},
 "mark":{"type":"rule","strokeWidth":1.5},
 "encoding":{
  "x":{"field":"i","type":"quantitative","scale":{"domain":[-2.75,935.75],"nice":false,"zero":false},"axis":null},
  "y":{"field":"h","type":"quantitative","scale":{"domain":[88.576,93.339],"nice":false,"zero":false},
       "axis":{"orient":"right","title":null,"values":[93.325,93.13,92.935,92.74,92.545,92.35,92.155,91.965,91.77,91.575,91.38,91.185,90.99,90.795,90.6,90.41,90.215,90.02,89.825,89.63,89.435,89.24,89.045,88.855,88.66],"labelOverlap":false}},
  "y2":{"field":"l"},
  "color":{"field":"d","type":"nominal","scale":{"domain":["u","d"],"range":["#DA1F1F","#1212B4"]},"legend":null}}},
{"data":{"values":[{"g":1,"i":100,"p":93.463},{"g":1,"i":935.75,"p":91.298},{"g":2,"i":690.25,"p":89.15},{"g":2,"i":830.75,"p":90.546}]},
 "mark":{"type":"line","color":"#000000","strokeWidth":1.8,"clip":true},
 "encoding":{
  "x":{"field":"i","type":"quantitative","scale":{"domain":[-2.75,935.75],"nice":false,"zero":false},"axis":null},
  "y":{"field":"p","type":"quantitative","scale":{"domain":[88.576,93.339],"nice":false,"zero":false},
       "axis":{"orient":"right","title":null,"values":[93.325,93.13,92.935,92.74,92.545,92.35,92.155,91.965,91.77,91.575,91.38,91.185,90.99,90.795,90.6,90.41,90.215,90.02,89.825,89.63,89.435,89.24,89.045,88.855,88.66],"labelOverlap":false}},
  "detail":{"field":"g","type":"nominal"}}},
{"data":{"values":[
  {"a":1,"k":0,"i":746.25,"p":90.351},{"a":1,"k":1,"i":758.15,"p":89.982},{"a":1,"k":2,"i":758.3,"p":89.978},{"a":1,"k":3,"i":760.75,"p":89.901},
  {"a":2,"k":0,"i":760.75,"p":89.901},{"a":2,"k":1,"i":788.05,"p":90.599},{"a":2,"k":2,"i":788.35,"p":90.607},{"a":2,"k":3,"i":791.75,"p":90.694}]},
 "mark":{"type":"trail","color":"#000000"},
 "encoding":{
  "x":{"field":"i","type":"quantitative","scale":{"domain":[-2.75,935.75],"nice":false,"zero":false},"axis":null},
  "y":{"field":"p","type":"quantitative","scale":{"domain":[88.576,93.339],"nice":false,"zero":false},
       "axis":{"orient":"right","title":null,"values":[93.325,93.13,92.935,92.74,92.545,92.35,92.155,91.965,91.77,91.575,91.38,91.185,90.99,90.795,90.6,90.41,90.215,90.02,89.825,89.63,89.435,89.24,89.045,88.855,88.66],"labelOverlap":false}},
  "detail":{"field":"a","type":"nominal"},
  "order":{"field":"k","type":"quantitative"},
  "size":{"field":"k","type":"quantitative","scale":{"type":"threshold","domain":[0.5,1.5,2.5],"range":[1.5,8,14.5,0]},"legend":null}}},
{"data":{"values":[{"edge":-1.25}]},
 "mark":{"type":"rule","color":"#A0A0A0","strokeWidth":1.5},
 "encoding":{
  "x":{"field":"edge","type":"quantitative","scale":{"domain":[-2.75,935.75],"nice":false,"zero":false},"axis":null}}},
{"data":{"values":[{"v":91.209},{"v":90.609},{"v":90.0},{"v":89.898}]},
 "mark":{"type":"tick","orient":"horizontal","size":37,"thickness":9.5,"opacity":1,"color":"#E8141B"},
 "encoding":{
  "x":{"datum":945.5,"type":"quantitative","scale":{"domain":[-2.75,935.75],"nice":false,"zero":false},"axis":null},
  "y":{"field":"v","type":"quantitative","scale":{"domain":[88.576,93.339],"nice":false,"zero":false},
       "axis":{"orient":"right","title":null,"values":[93.325,93.13,92.935,92.74,92.545,92.35,92.155,91.965,91.77,91.575,91.38,91.185,90.99,90.795,90.6,90.41,90.215,90.02,89.825,89.63,89.435,89.24,89.045,88.855,88.66],"labelOverlap":false}}}},
{"data":{"values":[{"v":90.351}]},
 "mark":{"type":"tick","orient":"horizontal","size":37,"thickness":9.5,"opacity":1,"color":"#000000"},
 "encoding":{
  "x":{"datum":945.5,"type":"quantitative","scale":{"domain":[-2.75,935.75],"nice":false,"zero":false},"axis":null},
  "y":{"field":"v","type":"quantitative","scale":{"domain":[88.576,93.339],"nice":false,"zero":false},
       "axis":{"orient":"right","title":null,"values":[93.325,93.13,92.935,92.74,92.545,92.35,92.155,91.965,91.77,91.575,91.38,91.185,90.99,90.795,90.6,90.41,90.215,90.02,89.825,89.63,89.435,89.24,89.045,88.855,88.66],"labelOverlap":false}}}},
{"data":{"values":[{"v":91.209},{"v":90.609},{"v":90.0},{"v":89.898},{"v":90.351}]},
 "mark":{"type":"text","align":"left","baseline":"middle","color":"#FFFFFF","font":"Liberation Sans","fontSize":9},
 "encoding":{
  "x":{"datum":937.25,"type":"quantitative","scale":{"domain":[-2.75,935.75],"nice":false,"zero":false},"axis":null},
  "y":{"field":"v","type":"quantitative","scale":{"domain":[88.576,93.339],"nice":false,"zero":false},
       "axis":{"orient":"right","title":null,"values":[93.325,93.13,92.935,92.74,92.545,92.35,92.155,91.965,91.77,91.575,91.38,91.185,90.99,90.795,90.6,90.41,90.215,90.02,89.825,89.63,89.435,89.24,89.045,88.855,88.66],"labelOverlap":false}},
  "text":{"field":"v","type":"quantitative","format":".3f"}}},
{"data":{"values":[{"t":"美指一小时图表/闫瑞祥","i":11.75,"p":92.999}]},
 "mark":{"type":"text","align":"left","baseline":"middle","color":"#1A1A1A","font":"Noto Sans CJK SC","fontSize":29},
 "encoding":{
  "x":{"field":"i","type":"quantitative","scale":{"domain":[-2.75,935.75],"nice":false,"zero":false},"axis":null},
  "y":{"field":"p","type":"quantitative","scale":{"domain":[88.576,93.339],"nice":false,"zero":false},
       "axis":{"orient":"right","title":null,"values":[93.325,93.13,92.935,92.74,92.545,92.35,92.155,91.965,91.77,91.575,91.38,91.185,90.99,90.795,90.6,90.41,90.215,90.02,89.825,89.63,89.435,89.24,89.045,88.855,88.66],"labelOverlap":false}},
  "text":{"field":"t","type":"nominal"}}}
]
}
